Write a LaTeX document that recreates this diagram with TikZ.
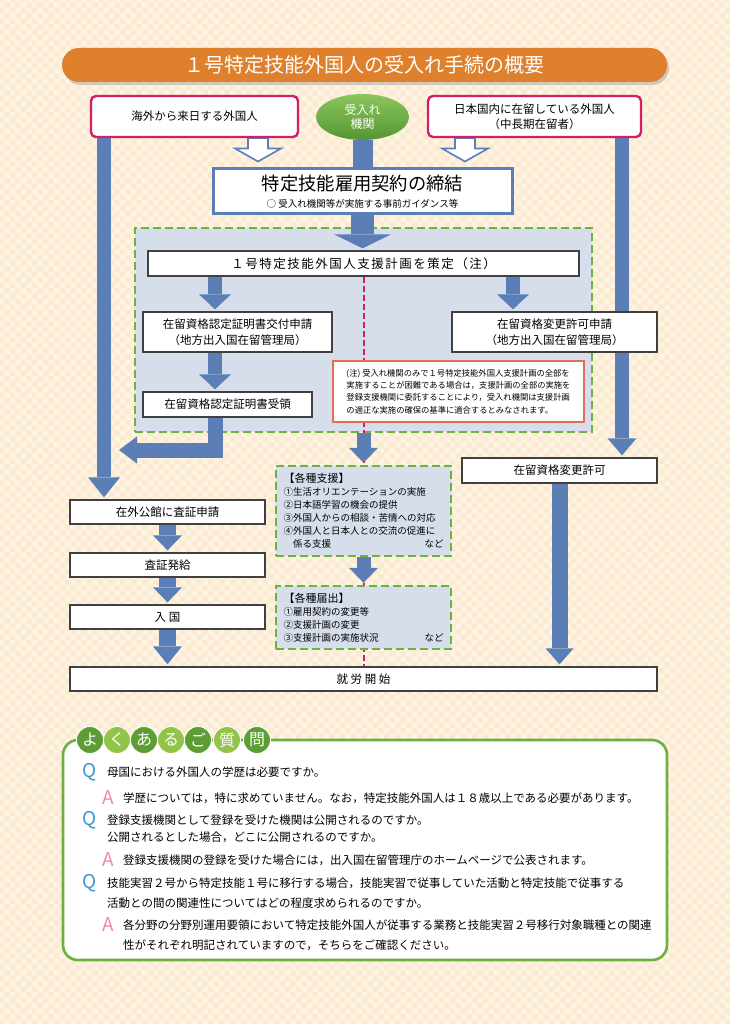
\documentclass[tikz,border=0pt]{standalone}
\usepackage{fontspec}
\setmainfont{Noto Sans CJK JP}
\usepackage{tikz}
\usetikzlibrary{positioning,arrows.meta,calc,shadows,patterns,shapes.geometric}

\definecolor{paper}{RGB}{253,243,227}
\definecolor{paperdot}{RGB}{251,234,208}
\definecolor{titleorange}{RGB}{222,128,44}
\definecolor{entrypink}{RGB}{212,30,102}
\definecolor{flow}{RGB}{92,126,182}
\definecolor{zonefill}{RGB}{214,222,236}
\definecolor{zonegreen}{RGB}{108,178,64}
\definecolor{notered}{RGB}{226,112,84}
\definecolor{faqgreen}{RGB}{110,176,64}
\definecolor{bubbledark}{RGB}{92,158,52}
\definecolor{bubblelight}{RGB}{146,196,74}
\definecolor{agencytop}{RGB}{140,198,92}
\definecolor{agencybot}{RGB}{84,150,52}
\definecolor{qblue}{RGB}{58,152,214}
\definecolor{apink}{RGB}{234,140,170}

\pgfdeclarelayer{paperlayer}
\pgfdeclarelayer{links}
\pgfsetlayers{paperlayer,links,main}

\newcommand{\fsz}[2]{\fontsize{#1}{#2}\selectfont}
% white arrow with blue outline, from #1 down to just above #2
\newcommand{\hollowarrow}[2]{%
  \draw[hollow] let \p1=(#1), \p2=(#2) in
    (\x1-10pt,\y1) -- (\x1-10pt,\y2+19pt) -- (\x1-23pt,\y2+19pt) -- (\x1,\y2+6pt)
    -- (\x1+23pt,\y2+19pt) -- (\x1+10pt,\y2+19pt) -- (\x1+10pt,\y1) -- cycle;}

\begin{document}
\begin{tikzpicture}[x=1pt,y=-1pt]

	\tikzset{
		box/.style={draw=black!75, line width=1.3pt, fill=white, inner sep=0pt,
			align=center, font=\fsz{11.5}{16}},
		entrybox/.style={draw=entrypink, line width=2.4pt, rounded corners=5pt,
			fill=white, inner sep=0pt, align=center, font=\fsz{11.5}{15}},
		zone/.style={draw=zonegreen, line width=2.4pt, dash pattern=on 8pt off 4pt,
			fill=zonefill, inner sep=0pt},
		feed/.style={draw=flow, line width=#1},
		barrow/.style n args={3}{draw=flow, line width=#1, shorten >=2pt,
			-{Triangle[width=#2,length=#3,line width=0pt]}},
		hollow/.style={draw=flow, line width=1.6pt, fill=white, line join=miter},
		marker/.style={draw=entrypink, line width=2pt, dash pattern=on 6pt off 3pt},
		bubble/.style={circle, minimum size=27pt, inner sep=0pt, draw=white,
			line width=.8pt, fill=#1, text=white, font=\fsz{16}{16}},
		qmark/.style={inner sep=0pt, text=qblue, font=\fsz{19}{19}},
		amark/.style={inner sep=0pt, text=apink, font=\fsz{19}{19}},
		faqline/.style={anchor=west, inner sep=0pt, align=left, font=\fsz{11.5}{#1}},
		faqline/.default=17pt
	}

	\useasboundingbox (0,0) rectangle (730,1024);

	\begin{pgfonlayer}{paperlayer}
		\fill[paper] (0,0) rectangle (730,1024);
		\fill[pattern=checkerboard, pattern color=paperdot] (0,0) rectangle (730,1024);
		\node[zone, minimum width=457pt, minimum height=204pt] (zone) at (363.5,330) {};
	\end{pgfonlayer}

	% lanes of the long bars
	\coordinate (leftlane) at (104,0);
	\coordinate (rightlane) at (622,0);
	\coordinate (applylane) at (215,0);
	\coordinate (changelane) at (513,0);
	\coordinate (hollowleft) at (258,0);
	\coordinate (hollowright) at (465,0);
	\coordinate (bendtip) at (117,450);

	% title
	\node[rounded corners=17pt, fill=titleorange, text=white, inner sep=0pt,
		minimum width=605pt, minimum height=34pt, font=\fsz{20}{22},
		drop shadow={shadow xshift=2pt, shadow yshift=-3pt, opacity=.35}]
		(title) at (364.5,65) {１号特定技能外国人の受入れ手続の概要};

	% top row
	\node[entrybox, minimum width=207pt, minimum height=41pt] (abroad) at (194.5,116.5)
		{海外から来日する外国人};
	\node[ellipse, minimum width=93pt, minimum height=46pt, inner sep=0pt,
		top color=agencytop, bottom color=agencybot, text=white, align=center,
		font=\fsz{12}{14}] (agency) at (362.5,117) {受入れ\\機関};
	\node[entrybox, minimum width=213pt, minimum height=41pt] (resident) at (534.5,116.5)
		{日本国内に在留している外国人\\（中長期在留者）};

	\node[box, draw=flow, line width=3pt, minimum width=299pt, minimum height=45pt]
		(contract) at (362.5,191.5)
		{{\fsz{18.3}{18}特定技能雇用契約の締結}\\[1pt]{\fsz{9.5}{11}○ 受入れ機関等が実施する事前ガイダンス等}};

	% inside the dashed zone
	\node[box, minimum width=431pt, minimum height=25pt,
		font=\fsz{12.5}{14}\addfontfeatures{LetterSpace=12}] (plan) at (363.5,263.5)
		{１号特定技能外国人支援計画を策定（注）};
	\node[box, minimum width=189pt, minimum height=40pt] (apply) at (237.5,332)
		{在留資格認定証明書交付申請\\（地方出入国在留管理局）};
	\node[box, minimum width=205pt, minimum height=40pt] (changeapply) at (554.5,332)
		{在留資格変更許可申請\\（地方出入国在留管理局）};
	\node[box, minimum width=169pt, minimum height=25pt] (receipt) at (227.5,404.5)
		{在留資格認定証明書受領};
	\node[draw=notered, line width=2.4pt, fill=white, inner sep=0pt, align=left,
		minimum width=251pt, minimum height=61pt, font=\fsz{8.3}{12.3}] (note) at (458.5,391.5)
		{(注) 受入れ機関のみで１号特定技能外国人支援計画の全部を\\
		 実施することが困難である場合は，支援計画の全部の実施を\\
		 登録支援機関に委託することにより，受入れ機関は支援計画\\
		 の適正な実施の確保の基準に適合するとみなされます。};

	% left column
	\node[box, minimum width=195pt, minimum height=24pt] (visa) at (167.5,512) {在外公館に査証申請};
	\node[box, minimum width=195pt, minimum height=24pt] (issue) at (167.5,565) {査証発給};
	\node[box, minimum width=195pt, minimum height=24pt] (entry) at (167.5,617) {入 国};

	% middle column
	\node[zone, minimum width=175pt, minimum height=90pt, text width=160pt,
		inner xsep=7.5pt, align=left, font=\fsz{9.5}{13}] (support) at (363.5,511)
		{{\fsz{11}{13}【各種支援】}\\
		 ①生活オリエンテーションの実施\\
		 ②日本語学習の機会の提供\\
		 ③外国人からの相談・苦情への対応\\
		 ④外国人と日本人との交流の促進に\\
		 \hspace*{1em}係る支援\hfill など\hspace*{1.4em}};
	\node[zone, minimum width=175pt, minimum height=63pt, text width=160pt,
		inner xsep=7.5pt, align=left, font=\fsz{9.5}{13}] (notify) at (363.5,617.5)
		{{\fsz{11}{13}【各種届出】}\\
		 ①雇用契約の変更等\\
		 ②支援計画の変更\\
		 ③支援計画の実施状況\hfill など\hspace*{1.4em}};

	% right column
	\node[box, minimum width=195pt, minimum height=25pt] (permit) at (559.5,470.5) {在留資格変更許可};

	\node[box, minimum width=587pt, minimum height=24pt] (work) at (363.5,679) {就 労 開 始};

	% connectors
	\begin{pgfonlayer}{links}
		\draw[marker] (plan.south) -- (work.north);
		\draw[feed=20pt] (agency) -- (contract);
		\hollowarrow{abroad.south -| hollowleft}{contract.north -| hollowleft}
		\hollowarrow{resident.south -| hollowright}{contract.north -| hollowright}
		\draw[barrow={23pt}{57pt}{14pt}] (contract) -- (contract |- plan.north);
		\draw[barrow={14pt}{32pt}{20pt}] (abroad.south -| leftlane) -- (visa.north -| leftlane);
		\draw[barrow={14pt}{29pt}{17pt}] (resident.south -| rightlane) -- (permit.north -| rightlane);
		\draw[barrow={14pt}{32pt}{15pt}] (plan.south -| applylane) -- (apply.north -| applylane);
		\draw[barrow={14pt}{32pt}{15pt}] (plan.south -| changelane) -- (changeapply.north -| changelane);
		\draw[barrow={14pt}{32pt}{15pt}] (apply.south -| applylane) -- (receipt.north -| applylane);
		\draw[barrow={15pt}{27pt}{18pt}] (receipt.south -| applylane) |- (bendtip);
		\draw[barrow={14pt}{29pt}{15pt}] (zone.south) -- (support.north);
		\draw[barrow={14pt}{29pt}{15pt}] (support.south) -- (notify.north);
		\draw[barrow={17pt}{29pt}{15pt}] (visa) -- (issue.north);
		\draw[barrow={17pt}{29pt}{15pt}] (issue) -- (entry.north);
		\draw[barrow={17pt}{29pt}{18pt}] (entry) -- (entry |- work.north);
		\draw[barrow={16pt}{28pt}{16pt}] (permit) -- (permit |- work.north);
	\end{pgfonlayer}

	% questions
	\node[draw=faqgreen, line width=2.6pt, rounded corners=15pt, fill=white,
		minimum width=604pt, minimum height=220pt] (faq) at (365,850) {};
	\foreach \cx/\ch/\tone [count=\i] in {90/よ/bubbledark,117/く/bubblelight,144/あ/bubbledark,
			171/る/bubblelight,198/ご/bubbledark,227/質/bubblelight,257/問/bubbledark}
		\node[bubble=\tone] (head\i) at (\cx,740) {\ch};

	\node[qmark] (q1) at (90,772) {Q};
	\node[faqline] (q1t) at (107,772) {母国における外国人の学歴は必要ですか。};
	\node[amark] (a1) at (108,798) {A};
	\node[faqline] (a1t) at (123,798)
		{学歴については，特に求めていません。なお，特定技能外国人は１８歳以上である必要があります。};
	\node[qmark] (q2) at (90,820) {Q};
	\node[faqline] (q2t) at (107,828.5)
		{登録支援機関として登録を受けた機関は公開されるのですか。\\公開されるとした場合，どこに公開されるのですか。};
	\node[amark] (a2) at (108,860) {A};
	\node[faqline] (a2t) at (123,860)
		{登録支援機関の登録を受けた場合には，出入国在留管理庁のホームページで公表されます。};
	\node[qmark] (q3) at (90,883) {Q};
	\node[faqline=19.5pt] (q3t) at (107,893)
		{技能実習２号から特定技能１号に移行する場合，技能実習で従事していた活動と特定技能で従事する\\活動との間の関連性についてはどの程度求められるのですか。};
	\node[amark] (a3) at (108,925) {A};
	\node[faqline=20pt] (a3t) at (123,935)
		{各分野の分野別運用要領において特定技能外国人が従事する業務と技能実習２号移行対象職種との関連\\性がそれぞれ明記されていますので，そちらをご確認ください。};

\end{tikzpicture}
\end{document}
